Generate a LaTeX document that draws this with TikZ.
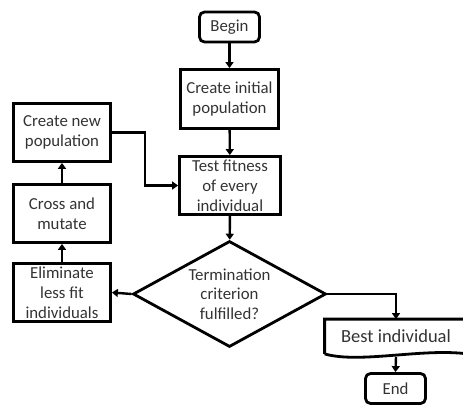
\documentclass[tikz,border=0pt]{standalone}
\usepackage{fontspec}
\setmainfont{Carlito}
\usetikzlibrary{shapes.geometric,arrows.meta,calc}
\begin{document}
\begin{tikzpicture}[x=1pt,y=-1pt,line width=2.8pt,
        box/.style={draw,align=center,inner sep=0pt,minimum width=97pt,minimum height=58pt,text=black!80,font=\fontsize{16.8}{20}\selectfont},
        term/.style={box,rounded corners=5pt,minimum width=60pt,minimum height=30pt},
        cond/.style={draw,diamond,shape aspect=1.8,inner sep=0pt,align=center,minimum width=193pt,minimum height=106pt,text=black!80,font=\fontsize{16.8}{19.5}\selectfont},
        flow/.style={-{Triangle[length=6pt,width=8pt]},line width=2.4pt}]
        \useasboundingbox (0,0) rectangle (463,409);
        \node[term] (begin) at (229.5,27) {Begin};
        \node[box,minimum width=98pt,minimum height=59pt] (init) at (229.5,99) {Create initial\\population};
        \node[box,minimum width=101pt] (test) at (230,185.5) {Test fitness\\of every\\individual};
        \node[cond] (check) at (229.5,294) {Termination\\criterion\\fulfilled?};
        \node[box] (newpop) at (62,132.5) {Create new\\population};
        \node[box] (cross) at (62,213.5) {Cross and\\mutate};
        \node[box] (elim) at (62,292.5) {Eliminate\\less fit\\individuals};
        \node[minimum width=140pt,minimum height=32pt,inner sep=0pt,text=black!80,font=\fontsize{18.5}{22}\selectfont] (best) at (396,336.5) {Best individual};
        \draw (best.south west) -- (best.north west) -- (best.north east) -- (best.south east)
              .. controls ($(best.south east)+(-45,-6)$) and ($(best.south west)+(35,10)$) .. (best.south west);
        \node[term] (end) at (395.5,388.5) {End};
        \draw[flow] (begin) -- (init);
        \draw[flow] (init) -- (test);
        \draw[flow] (test) -- (check);
        \draw[flow] (check.west) -- (elim.east);
        \draw[flow] (elim) -- (cross);
        \draw[flow] (cross) -- (newpop);
        \draw[flow] (newpop.east) -- ++(33,0) |- (test.west);
        \draw[flow] (check.east) -| (best.north);
        \draw[flow] ($(best.south)+(0,3)$) -- (end.north);
      \end{tikzpicture}
\end{document}
